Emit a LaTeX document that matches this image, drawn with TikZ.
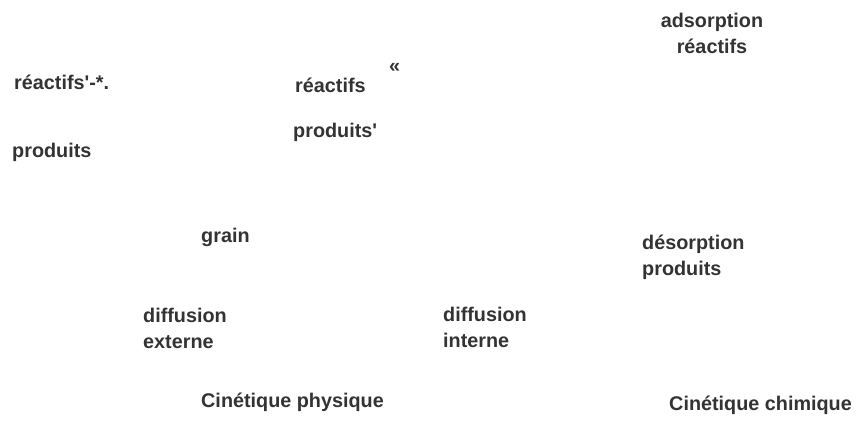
\documentclass[tikz,border=0pt]{standalone}
\usepackage{fontspec}
\setmainfont{Liberation Sans}
\usetikzlibrary{positioning}
\definecolor{labelgray}{HTML}{333333}

\begin{document}
\begin{tikzpicture}[
  x=1pt,y=-1pt,
  lbl/.style={font=\bfseries\fontsize{19.8}{26}\selectfont,text=labelgray,inner sep=0pt,anchor=base west,align=left},
  ctr/.style={lbl,anchor=base,align=center}
]
\useasboundingbox (0,0) rectangle (859,421);
% haut
\node[ctr] (adsreac) at (712,53) {adsorption\\réactifs};
\node[lbl] (reacext) at (14,89) {réactifs\textquotesingle-*.};
\node[lbl] (reacin) at (295,92) {réactifs};
\node[lbl] (guil) at (389,72) {«};
\node[lbl] (prodin) at (293,137) {produits\textquotesingle};
\node[lbl] (prodext) at (12,157) {produits};
% milieu
\node[lbl] (grain) at (201,242) {grain};
\node[lbl] (desprod) at (642,275) {désorption\\produits};
\node[lbl] (diffext) at (143,348) {diffusion\\externe};
\node[lbl] (diffint) at (443,347) {diffusion\\interne};
% bas
\node[lbl] (cinphys) at (201,407) {Cinétique physique};
\node[lbl] (cinchim) at (669,410) {Cinétique chimique};
\end{tikzpicture}
\end{document}
